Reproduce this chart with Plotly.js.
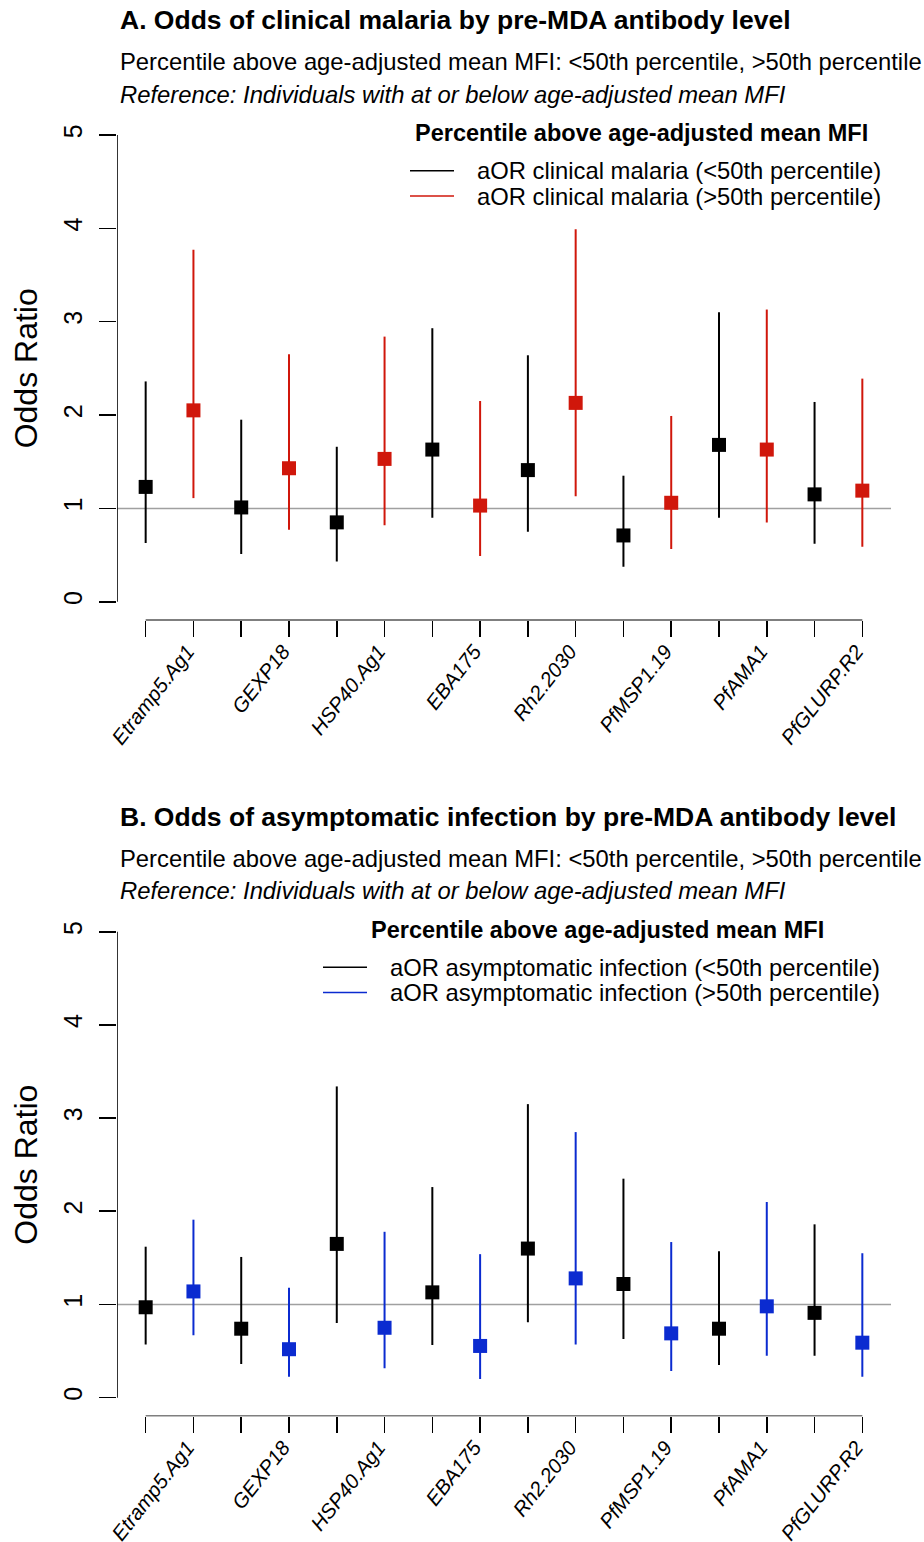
<!DOCTYPE html>
<html>
<head>
<meta charset="utf-8">
<script src="https://cdn.plot.ly/plotly-3.0.1.min.js"></script>
<style>html,body{margin:0;padding:0;background:#fff;}#chart{width:924px;height:1542px;}</style>
</head>
<body>
<div id="chart"></div>
<script>
// ---------- DATA ----------
const antigens = ['Etramp5.Ag1','GEXP18','HSP40.Ag1','EBA175','Rh2.2030','PfMSP1.19','PfAMA1','PfGLURP.R2'];
const yTicks = [0, 1, 2, 3, 4, 5];

// Panel A: clinical malaria
const clinLowOR  = [1.23, 1.01, 0.85, 1.63, 1.41, 0.71, 1.68, 1.15];
const clinLowLo  = [0.63, 0.51, 0.43, 0.90, 0.75, 0.375, 0.90, 0.62];
const clinLowHi  = [2.36, 1.95, 1.66, 2.93, 2.64, 1.35, 3.10, 2.14];
const clinHighOR = [2.05, 1.43, 1.53, 1.03, 2.13, 1.06, 1.63, 1.19];
const clinHighLo = [1.11, 0.77, 0.82, 0.49, 1.13, 0.565, 0.85, 0.59];
const clinHighHi = [3.77, 2.65, 2.84, 2.15, 3.99, 1.99, 3.13, 2.39];

// Panel B: asymptomatic infection
const asxLowOR  = [0.97, 0.74, 1.65, 1.13, 1.60, 1.22, 0.74, 0.91];
const asxLowLo  = [0.57, 0.36, 0.80, 0.565, 0.81, 0.63, 0.35, 0.45];
const asxLowHi  = [1.62, 1.51, 3.34, 2.26, 3.15, 2.35, 1.57, 1.86];
const asxHighOR = [1.14, 0.52, 0.75, 0.555, 1.28, 0.69, 0.98, 0.59];
const asxHighLo = [0.67, 0.225, 0.315, 0.20, 0.57, 0.285, 0.45, 0.225];
const asxHighHi = [1.91, 1.18, 1.78, 1.54, 2.85, 1.67, 2.10, 1.55];

const titleA = 'A. Odds of clinical malaria by pre-MDA antibody level';
const titleB = 'B. Odds of asymptomatic infection by pre-MDA antibody level';
const subtitle = 'Percentile above age-adjusted mean MFI: &lt;50th percentile, &gt;50th percentile';
const refText = 'Reference: Individuals with at or below age-adjusted mean MFI';
const legendTitle = 'Percentile above age-adjusted mean MFI';
const legA = ['aOR clinical malaria (&lt;50th percentile)', 'aOR clinical malaria (&gt;50th percentile)'];
const legB = ['aOR asymptomatic infection (&lt;50th percentile)', 'aOR asymptomatic infection (&gt;50th percentile)'];
const yTitle = 'Odds Ratio';

// ---------- STYLE ----------
const W = 924, H = 1542;
const FONT = 'Liberation Sans, Arial, Helvetica, sans-serif';
const BLACK = '#000000', RED = '#D0170B', BLUE = '#0B2BD0', GREY = '#A0A0A0';
const px = v => v / W;
const py = v => 1 - v / H;

const xLow = antigens.map((_, i) => 2 * i + 1);
const xHigh = antigens.map((_, i) => 2 * i + 2);
const tickvals = [];
const ticktext = [];
antigens.forEach((a, i) => { tickvals.push(2 * i + 1, 2 * i + 2); ticktext.push('', a); });

function trace(xs, or, lo, hi, color, xa, ya) {
  return {
    type: 'scatter', mode: 'markers', x: xs, y: or, xaxis: xa, yaxis: ya,
    marker: {symbol: 'square', size: 14, color: color, line: {width: 0}},
    error_y: {type: 'data', symmetric: false,
      array: or.map((v, i) => hi[i] - v),
      arrayminus: or.map((v, i) => v - lo[i]),
      color: color, thickness: 2, width: 0},
    showlegend: false, hoverinfo: 'skip', cliponaxis: false
  };
}

const data = [
  trace(xLow, clinLowOR, clinLowLo, clinLowHi, BLACK, 'x', 'y'),
  trace(xHigh, clinHighOR, clinHighLo, clinHighHi, RED, 'x', 'y'),
  trace(xLow, asxLowOR, asxLowLo, asxLowHi, BLACK, 'x2', 'y2'),
  trace(xHigh, asxHighOR, asxHighLo, asxHighHi, BLUE, 'x2', 'y2')
];

function xax(anchor) {
  return {domain: [px(117), px(891)], range: [0.4, 16.6], anchor: anchor,
    tickmode: 'array', tickvals: tickvals, ticktext: ticktext, tickangle: -52,
    ticks: 'outside', ticklen: 16, tickwidth: 1.6, tickcolor: BLACK,
    ticklabelshift: -6, ticklabelstandoff: -6,
    tickfont: {family: FONT, size: 20.5, color: BLACK, style: 'italic'},
    showline: false, showgrid: false, zeroline: false, fixedrange: true, automargin: false};
}
function yax(anchor, top, bottom) {
  return {domain: [py(bottom), py(top)], range: [-0.2, 5.2], anchor: anchor,
    tickmode: 'array', tickvals: yTicks, ticktext: yTicks.map(String), tickangle: -90,
    ticks: 'outside', ticklen: 17, tickwidth: 1.6, tickcolor: BLACK, ticklabelstandoff: 7,
    tickfont: {family: FONT, size: 25, color: BLACK},
    showline: false, showgrid: false, zeroline: false, fixedrange: true, automargin: false};
}

const shapes = [];
const annotations = [];
function panel(xa, ya, color, off, title, leg, legCx, lineX0, lineX1, textX, plotTop, plotBot) {
  // axis lines over tick range
  shapes.push({type: 'line', xref: xa, yref: ya, x0: 1, x1: 16, y0: -0.2, y1: -0.2, line: {color: BLACK, width: 1.6}});
  shapes.push({type: 'line', xref: xa, yref: ya, x0: 0.4, x1: 0.4, y0: 0, y1: 5, line: {color: BLACK, width: 1.6}});
  // reference line at OR = 1
  shapes.push({type: 'line', xref: xa + ' domain', yref: ya, x0: 0, x1: 1, y0: 1, y1: 1, layer: 'below', line: {color: GREY, width: 1.5}});
  // titles
  annotations.push({xref: 'paper', yref: 'paper', x: px(118), y: py(20 + off), xanchor: 'left', yanchor: 'middle', showarrow: false,
    text: '<b>' + title + '</b>', font: {family: FONT, size: 26.5, color: BLACK}});
  annotations.push({xref: 'paper', yref: 'paper', x: px(118), y: py(62 + off), xanchor: 'left', yanchor: 'middle', showarrow: false,
    text: subtitle, font: {family: FONT, size: 23.8, color: BLACK}});
  annotations.push({xref: 'paper', yref: 'paper', x: px(118), y: py(94 + off), xanchor: 'left', yanchor: 'middle', showarrow: false,
    text: '<i>' + refText + '</i>', font: {family: FONT, size: 23.8, color: BLACK}});
  // legend
  annotations.push({xref: 'paper', yref: 'paper', x: px(legCx), y: py(133 + off), xanchor: 'center', yanchor: 'middle', showarrow: false,
    text: '<b>' + legendTitle + '</b>', font: {family: FONT, size: 23.5, color: BLACK}});
  const ly = [170.7 + off, 196 + off];
  [BLACK, color].forEach((c, i) => {
    shapes.push({type: 'line', xref: 'paper', yref: 'paper', x0: px(lineX0), x1: px(lineX1), y0: py(ly[i]), y1: py(ly[i]), line: {color: c, width: 1.6}});
    annotations.push({xref: 'paper', yref: 'paper', x: px(textX), y: py(ly[i]), xanchor: 'left', yanchor: 'middle', showarrow: false,
      text: leg[i], font: {family: FONT, size: 23.8, color: BLACK}});
  });
  // y axis title
  annotations.push({xref: 'paper', yref: 'paper', x: px(26), y: py((plotTop + plotBot) / 2), xanchor: 'center', yanchor: 'middle',
    textangle: -90, showarrow: false, text: yTitle, font: {family: FONT, size: 32, color: BLACK}});
}
panel('x', 'y', RED, 0, titleA, legA, 641, 410, 454, 475, 116.3, 620.4);
panel('x2', 'y2', BLUE, 796.5, titleB, legB, 597, 323, 367, 388, 913.1, 1416.3);

const layout = {
  width: W, height: H, margin: {l: 0, r: 0, t: 0, b: 0, autoexpand: false},
  paper_bgcolor: '#ffffff', plot_bgcolor: '#ffffff', showlegend: false,
  font: {family: FONT, color: BLACK},
  xaxis: xax('y'), yaxis: yax('x', 116.3, 620.4),
  xaxis2: xax('y2'), yaxis2: yax('x2', 913.1, 1416.3),
  shapes: shapes, annotations: annotations
};

Plotly.newPlot('chart', data, layout, {staticPlot: true, displayModeBar: false});
</script>
</body>
</html>
